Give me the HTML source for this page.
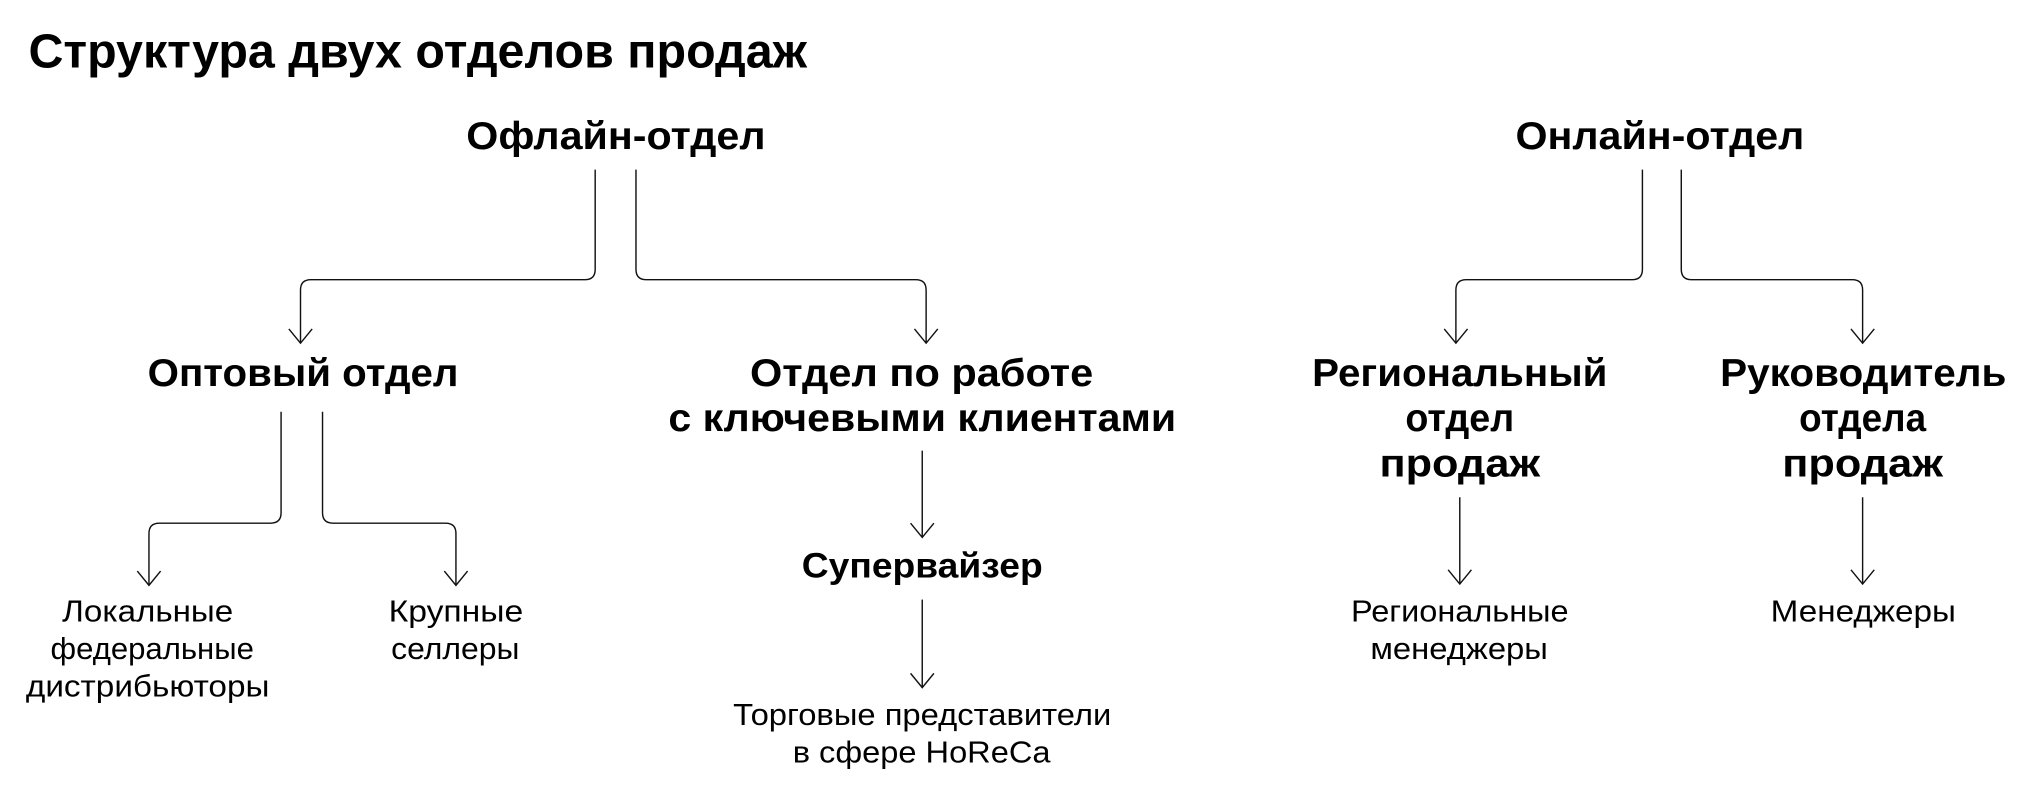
<!DOCTYPE html>
<html><head><meta charset="utf-8"><style>
html,body{margin:0;padding:0;background:#fff;}
svg{display:block}
text{font-family:"Liberation Sans","DejaVu Sans",sans-serif;fill:#000}
.b{font-weight:bold;font-size:30px}
.r{font-size:23.5px}
</style></head><body>
<svg width="2031" height="799" viewBox="0 0 1568 617" preserveAspectRatio="none" xmlns="http://www.w3.org/2000/svg">
<g fill="none" stroke="#111" stroke-width="1.1">
<path d="M459.5 131 V208 Q459.5 216 451.5 216 H240 Q232 216 232 224 V265"/>
<path d="M491 131 V208 Q491 216 499 216 H707 Q715 216 715 224 V265"/>
<path d="M223 254 L232 265 L241 254"/><path d="M706 254 L715 265 L724 254"/>
<path d="M217 318 V396 Q217 404 209 404 H123 Q115 404 115 412 V452"/>
<path d="M249 318 V396 Q249 404 257 404 H344 Q352 404 352 412 V452"/>
<path d="M106 441 L115 452 L124 441"/><path d="M343 441 L352 452 L361 441"/>
<path d="M712 348 V415"/><path d="M703 404 L712 415 L721 404"/>
<path d="M712 463 V531"/><path d="M703 520 L712 531 L721 520"/>
<path d="M1268 131 V208 Q1268 216 1260 216 H1132 Q1124 216 1124 224 V265"/>
<path d="M1298 131 V208 Q1298 216 1306 216 H1430 Q1438 216 1438 224 V265"/>
<path d="M1115 254 L1124 265 L1133 254"/><path d="M1429 254 L1438 265 L1447 254"/>
<path d="M1127 384 V451"/><path d="M1118 440 L1127 451 L1136 440"/>
<path d="M1438 384 V451"/><path d="M1429 440 L1438 451 L1447 440"/>
</g>
<text x="22" y="52" style="font-weight:bold;font-size:37px" textLength="601" lengthAdjust="spacingAndGlyphs">Структура двух отделов продаж</text>
<g text-anchor="middle">
<text class="b" x="475.5" y="115" textLength="231" lengthAdjust="spacingAndGlyphs">Офлайн-отдел</text>
<text class="b" x="1281.5" y="115" textLength="223" lengthAdjust="spacingAndGlyphs">Онлайн-отдел</text>
<text class="b" x="234" y="298" textLength="240" lengthAdjust="spacingAndGlyphs">Оптовый отдел</text>
<text class="b" x="711.5" y="298" textLength="265" lengthAdjust="spacingAndGlyphs">Отдел по работе</text>
<text class="b" x="712" y="333" textLength="392" lengthAdjust="spacingAndGlyphs">с ключевыми клиентами</text>
<text class="b" x="1127" y="298" textLength="228" lengthAdjust="spacingAndGlyphs">Региональный</text>
<text class="b" x="1127" y="333" textLength="84" lengthAdjust="spacingAndGlyphs">отдел</text>
<text class="b" x="1127" y="368" textLength="124" lengthAdjust="spacingAndGlyphs">продаж</text>
<text class="b" x="1438.5" y="298" textLength="221" lengthAdjust="spacingAndGlyphs">Руководитель</text>
<text class="b" x="1438" y="333" textLength="98" lengthAdjust="spacingAndGlyphs">отдела</text>
<text class="b" x="1438" y="368" textLength="124" lengthAdjust="spacingAndGlyphs">продаж</text>
<text x="712" y="446" style="font-weight:bold;font-size:27px" textLength="186" lengthAdjust="spacingAndGlyphs">Супервайзер</text>
<text class="r" x="114" y="480" textLength="132" lengthAdjust="spacingAndGlyphs">Локальные</text>
<text class="r" x="117.5" y="509" textLength="157" lengthAdjust="spacingAndGlyphs">федеральные</text>
<text class="r" x="114" y="538" textLength="188" lengthAdjust="spacingAndGlyphs">дистрибьюторы</text>
<text class="r" x="352" y="480" textLength="104" lengthAdjust="spacingAndGlyphs">Крупные</text>
<text class="r" x="351.5" y="509" textLength="99" lengthAdjust="spacingAndGlyphs">селлеры</text>
<text class="r" x="712" y="560" textLength="292" lengthAdjust="spacingAndGlyphs">Торговые представители</text>
<text class="r" x="711.5" y="589" textLength="199" lengthAdjust="spacingAndGlyphs">в сфере HoReCa</text>
<text class="r" x="1127" y="480" textLength="168" lengthAdjust="spacingAndGlyphs">Региональные</text>
<text class="r" x="1126.5" y="509" textLength="137" lengthAdjust="spacingAndGlyphs">менеджеры</text>
<text class="r" x="1438.5" y="480" textLength="143" lengthAdjust="spacingAndGlyphs">Менеджеры</text>
</g>
</svg>
</body></html>
